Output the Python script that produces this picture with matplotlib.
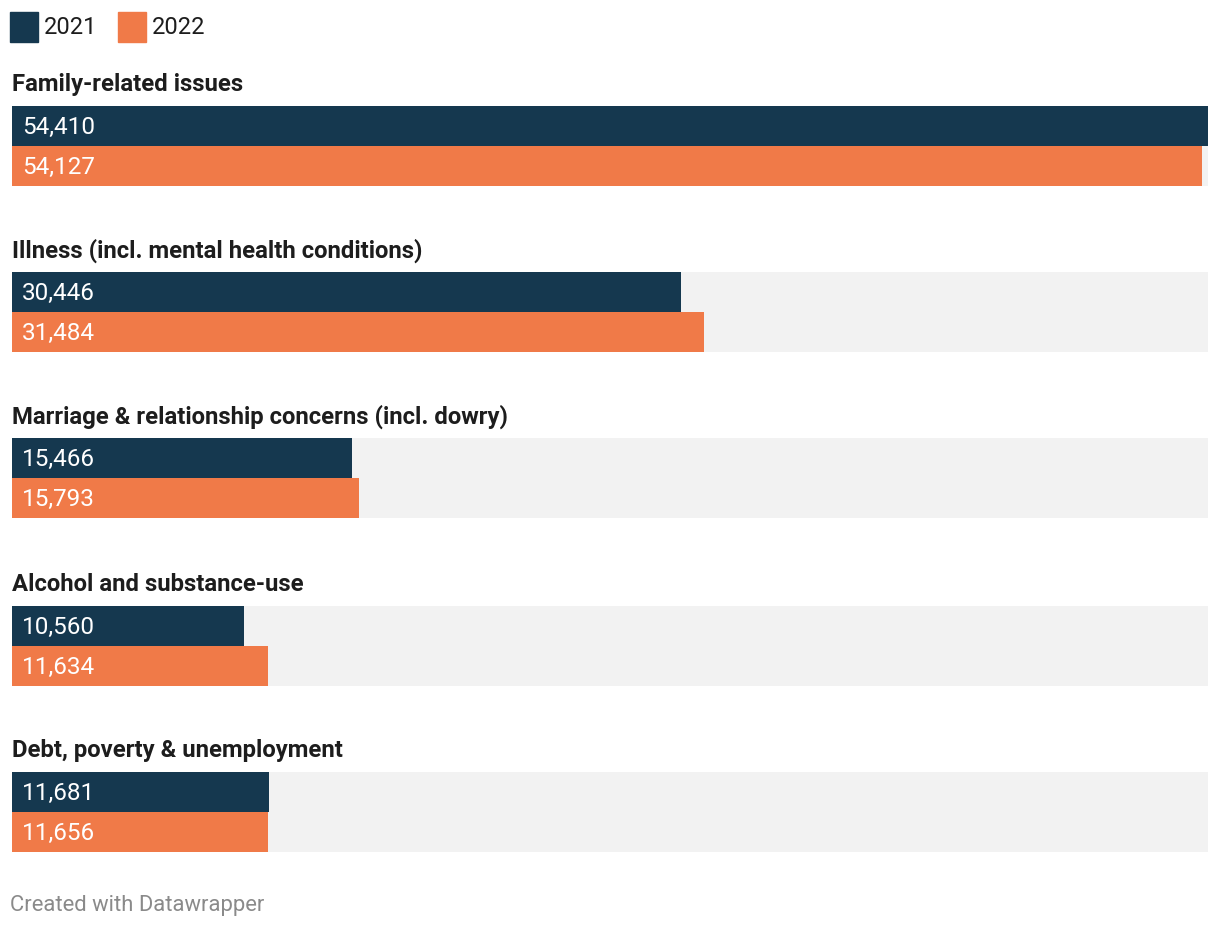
import matplotlib
matplotlib.use("Agg")
import matplotlib.pyplot as plt
import matplotlib.transforms as mtransforms

plt.rcParams["font.family"] = ["Roboto", "DejaVu Sans"]

CATEGORIES = [
    "Family-related issues",
    "Illness (incl. mental health conditions)",
    "Marriage & relationship concerns (incl. dowry)",
    "Alcohol and substance-use",
    "Debt, poverty & unemployment",
]
VALUES_2021 = [54410, 30446, 15466, 10560, 11681]
VALUES_2022 = [54127, 31484, 15793, 11634, 11656]
SERIES = ["2021", "2022"]

C_2021 = "#15384f"
C_2022 = "#f07a48"
C_BG = "#f2f2f2"

W, H = 1220, 930
fig = plt.figure(figsize=(W / 100, H / 100), dpi=100)

# axes in pixel-like layout units on y, data units on x
left_px, right_px = 12, 1208
ax = fig.add_axes([left_px / W, 0, (right_px - left_px) / W, 1])
vmax = max(max(VALUES_2021), max(VALUES_2022))
ax.set_xlim(0, vmax)
ax.set_ylim(H, 0)
ax.axis("off")

row_tops = [106, 272, 438, 606, 772]
bar_h = 40
off = mtransforms.offset_copy(ax.transData, fig=fig, x=10, y=0, units="dots")

for i, cat in enumerate(CATEGORIES):
    top = row_tops[i]
    # background track
    ax.barh(top + bar_h, vmax, height=2 * bar_h, left=0, color=C_BG, align="center")
    ax.barh(top + bar_h / 2, VALUES_2021[i], height=bar_h, color=C_2021, align="center")
    ax.barh(top + 1.5 * bar_h, VALUES_2022[i], height=bar_h, color=C_2022, align="center")
    ax.text(0, top + bar_h / 2 + 1, f"{VALUES_2021[i]:,}", transform=off,
            color="white", fontsize=17.5, va="center", ha="left")
    ax.text(0, top + 1.5 * bar_h + 1, f"{VALUES_2022[i]:,}", transform=off,
            color="white", fontsize=17.5, va="center", ha="left")
    ax.text(0, top - 21.5, cat, color="#1d1d1d", fontsize=17.2,
            fontweight="bold", va="center", ha="left")

# legend
for j, (lab, col) in enumerate(zip(SERIES, [C_2021, C_2022])):
    x0 = 10 + j * 108
    fig.patches.append(plt.Rectangle((x0 / W, 1 - 42 / H), 28 / W, 30 / H,
                                     transform=fig.transFigure, color=col))
    fig.text((x0 + 34) / W, 1 - 27 / H, lab, fontsize=17, color="#1d1d1d",
             va="center", ha="left")

fig.text(10 / W, 1 - 905 / H, "Created with Datawrapper", fontsize=15.8,
         color="#8a8a8a", va="center", ha="left")

fig.savefig("out.png", dpi=100, facecolor="white")
